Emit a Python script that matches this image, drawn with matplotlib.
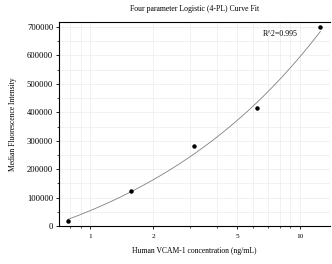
import numpy as np
import matplotlib
matplotlib.use("Agg")
import matplotlib.pyplot as plt
from matplotlib.ticker import LogLocator, FixedLocator, NullFormatter, MultipleLocator

# standard concentrations (ng/mL) and measured MFI
conc = [0.78125, 1.5625, 3.125, 6.25, 12.5]
mfi = [16500, 122000, 282000, 415000, 700000]

# 4-PL parameters (bottom, slope, ec50, top) read to match the fitted curve
a, b, c, d = -240000, 0.455, 1.0e6, 1.58e8
r2_text = "R^2=0.995"

xticks = [1, 2, 5, 10]
xticklabels = ["1", "2", "5", "10"]

plt.rcParams['font.family'] = ['Liberation Serif', 'DejaVu Serif']

fig = plt.figure(figsize=(3.32, 2.64), dpi=100)
ax = fig.add_axes([0.179, 0.144, 0.815, 0.773])

xs = np.logspace(np.log10(conc[0]), np.log10(conc[-1]), 200)
ys = d + (a - d) / (1 + (xs / c) ** b)
ax.plot(xs, ys, color='#808080', lw=0.6)
ax.plot(conc, mfi, 'o', color='black', ms=2.2)

ax.set_xscale('log')
ax.set_xlim(0.713, 13.9)
ax.set_ylim(0, 718000)

ax.xaxis.set_major_locator(FixedLocator(xticks))
ax.set_xticklabels(xticklabels)
ax.xaxis.set_minor_locator(LogLocator(base=10, subs=np.arange(2, 10)))
ax.xaxis.set_minor_formatter(NullFormatter())
ax.yaxis.set_major_locator(MultipleLocator(100000))
ax.yaxis.set_minor_locator(MultipleLocator(50000))

ax.grid(True, which='both', color='#ebebeb', lw=0.5)
ax.set_axisbelow(True)
ax.tick_params(which='major', length=2.5, width=0.6, pad=2)
ax.tick_params(axis='y', which='major', labelsize=6.2)
ax.tick_params(axis='x', which='major', labelsize=5.2, pad=3)
ax.tick_params(which='minor', length=1.5, width=0.5)
for s in ['left', 'bottom', 'top']:
    ax.spines[s].set_linewidth(0.8)
ax.spines['right'].set_visible(False)

ax.set_title("Four parameter Logistic (4-PL) Curve Fit", fontsize=5.6, pad=8)
ax.set_xlabel("Human VCAM-1 concentration (ng/mL)", fontsize=5.5, labelpad=6)
ax.set_ylabel("Median Fluorescence Intensity", fontsize=5.5, labelpad=7)
ax.text(0.815, 0.94, r2_text, transform=ax.transAxes, fontsize=5.7, ha='center', va='center')

fig.savefig("out.png", dpi=100)
